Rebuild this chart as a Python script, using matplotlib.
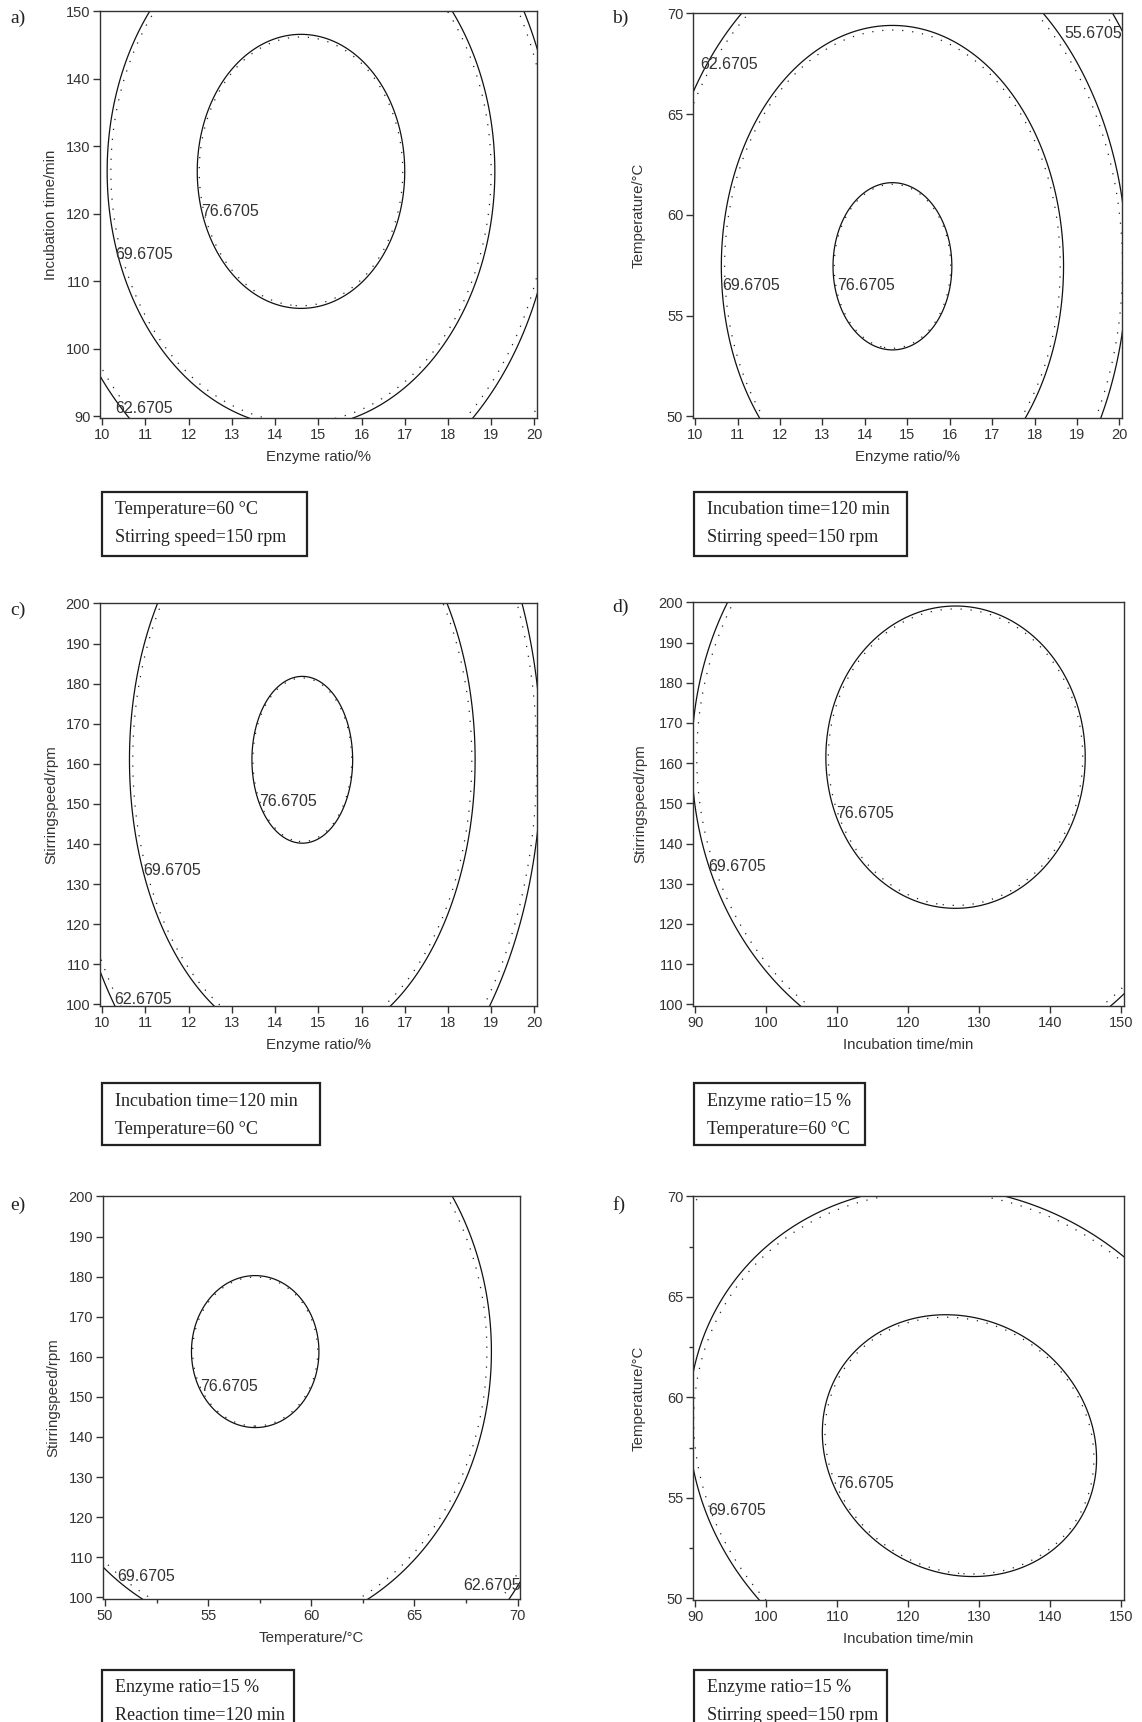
import numpy as np
import matplotlib
matplotlib.use('Agg')
import matplotlib.pyplot as plt
from matplotlib.patches import Rectangle
from matplotlib.ticker import MultipleLocator

# ---------------- data ----------------
panels = ['a', 'b', 'c', 'd', 'e', 'f']
x_names = ['Enzyme ratio/%', 'Enzyme ratio/%', 'Enzyme ratio/%',
           'Incubation time/min', 'Temperature/°C', 'Incubation time/min']
y_names = ['Incubation time/min', 'Temperature/°C', 'Stirringspeed/rpm',
           'Stirringspeed/rpm', 'Stirringspeed/rpm', 'Temperature/°C']
x_min = [10, 10, 10, 90, 50, 90]
x_max = [20, 20, 20, 150, 70, 150]
y_min = [90, 50, 100, 100, 100, 50]
y_max = [150, 70, 200, 200, 200, 70]
x_step = [1, 1, 1, 10, 5, 10]
y_step = [10, 5, 10, 10, 10, 5]

# quadratic response surface per panel: optimum, half-axes of the 76.6705 contour,
# interaction term and peak value
opt_x = [14.6, 14.65, 14.63, 126.65, 57.28, 127.2]
opt_y = [126.3, 57.45, 161.0, 161.5, 161.3, 57.6]
half_x = [2.4, 1.4, 1.165, 18.25, 3.09, 19.2]
half_y = [20.3, 4.15, 20.8, 37.6, 18.95, 6.48]
interaction = [0.0, 0.0, 0.0, 0.0, 0.0, 0.2]
peak = [79.48, 77.63, 77.32, 78.9, 77.22, 79.08]
levels = [55.6705, 62.6705, 69.6705, 76.6705]

fixed_1 = ['Temperature=60 °C', 'Incubation time=120 min', 'Incubation time=120 min',
           'Enzyme ratio=15 %', 'Enzyme ratio=15 %', 'Enzyme ratio=15 %']
fixed_2 = ['Stirring speed=150 rpm', 'Stirring speed=150 rpm', 'Temperature=60 °C',
           'Temperature=60 °C', 'Reaction time=120 min', 'Stirring speed=150 rpm']

# ---------------- layout ----------------
W, H = 1142, 1722
axes_px = [(100, 537, 11, 418), (693, 1122, 13, 418),
           (100, 537, 603, 1006), (693, 1124, 602, 1006),
           (103, 520, 1196, 1599), (693, 1124, 1196, 1600)]
box_px = [(102, 307, 492, 556), (694, 907, 492, 556),
          (102, 320, 1083, 1145), (694, 865, 1083, 1145),
          (102, 294, 1670, 1760), (694, 887, 1670, 1760)]
tag_px = [(10, 18), (612, 18), (10, 610), (612, 607), (10, 1205), (612, 1205)]
ylabel_off = [42, 47, 42, 46, 43, 47]   # px from left spine to label's right edge
label_pos = [
    [(76.6705, 12.3, 120.3), (69.6705, 10.3, 114.0), (62.6705, 10.3, 91.2)],
    [(62.6705, 10.11, 67.45), (55.6705, 18.7, 69.0), (69.6705, 10.65, 56.5), (76.6705, 13.34, 56.5)],
    [(76.6705, 13.63, 150.6), (69.6705, 10.96, 133.5), (62.6705, 10.28, 101.1)],
    [(76.6705, 109.9, 147.5), (69.6705, 91.8, 134.4)],
    [(76.6705, 54.6, 152.6), (69.6705, 50.6, 105.1), (62.6705, 67.35, 102.9)],
    [(76.6705, 109.9, 55.73), (69.6705, 91.8, 54.37)],
]
minor_x = [None, None, None, None, 2.5, None]
minor_y = [None, None, None, None, None, 2.5]

SANS = ['Liberation Sans', 'DejaVu Sans']
SERIF = ['Liberation Serif', 'DejaVu Serif']
TXT = '#333333'

fig = plt.figure(figsize=(W / 100, H / 100), dpi=100)
fig.patch.set_facecolor('white')

for i in range(6):
    l, r, t, b = axes_px[i]
    ax = fig.add_axes([l / W, 1 - b / H, (r - l) / W, (b - t) / H])
    xr = x_max[i] - x_min[i]
    yr = y_max[i] - y_min[i]
    ax.set_xlim(x_min[i] - 0.005 * xr, x_max[i] + 0.006 * xr)
    ax.set_ylim(y_min[i] - 0.004 * yr, y_max[i] + 0.001 * yr)

    xs = np.linspace(x_min[i] - 0.01 * xr, x_max[i] + 0.01 * xr, 400)
    ys = np.linspace(y_min[i] - 0.01 * yr, y_max[i] + 0.01 * yr, 400)
    X, Y = np.meshgrid(xs, ys)
    u = (X - opt_x[i]) / half_x[i]
    v = (Y - opt_y[i]) / half_y[i]
    Q = u ** 2 + v ** 2 + interaction[i] * u * v
    d = peak[i] - 76.6705
    Z = peak[i] - d * Q

    ax.contour(X, Y, Z, levels=levels, colors='#111111', linewidths=0.9)
    dot_levels = [peak[i] - (peak[i] - L) * 0.962 for L in levels]
    ax.contour(X, Y, Z, levels=dot_levels, colors='#222222', linewidths=0.9,
               linestyles=[(0, (1, 7))])

    for (L, lx, ly) in label_pos[i]:
        ax.text(lx, ly, f'{L:.4f}', ha='left', va='center', fontsize=11.5,
                family=SANS, color=TXT)

    ax.set_xticks(np.arange(x_min[i], x_max[i] + 0.001, x_step[i]))
    ax.set_yticks(np.arange(y_min[i], y_max[i] + 0.001, y_step[i]))
    if minor_x[i]:
        ax.xaxis.set_minor_locator(MultipleLocator(minor_x[i]))
    if minor_y[i]:
        ax.yaxis.set_minor_locator(MultipleLocator(minor_y[i]))
    ax.tick_params(which='major', direction='out', length=5, width=1, color=TXT,
                   labelsize=10.5, labelcolor=TXT, pad=2)
    ax.tick_params(which='minor', direction='out', length=3, width=1, color=TXT)
    for lab in ax.get_xticklabels() + ax.get_yticklabels():
        lab.set_family(SANS)
    for s in ax.spines.values():
        s.set_color('#333333')
        s.set_linewidth(1.0)
    ax.set_xlabel(x_names[i], fontsize=10.8, family=SANS, color=TXT, labelpad=6)
    ax.set_ylabel(y_names[i], fontsize=10.8, family=SANS, color=TXT)
    ax.yaxis.set_label_coords(-ylabel_off[i] / (r - l), 0.5)

    # panel tag
    tx, ty = tag_px[i]
    fig.text(tx / W, 1 - ty / H, f'{panels[i]})', ha='left', va='center',
             fontsize=14, family=SERIF, color='#222222')

    # box with fixed factors
    bl, br, bt, bb = box_px[i]
    rect = Rectangle((bl / W, 1 - bb / H), (br - bl) / W, (bb - bt) / H,
                     transform=fig.transFigure, fill=False, edgecolor='#222222',
                     linewidth=1.6, clip_on=False)
    fig.patches.append(rect)
    fig.text((bl + 13) / W, 1 - (bt + 18) / H, fixed_1[i], ha='left', va='center',
             fontsize=13, family=SERIF, color='#222222')
    fig.text((bl + 13) / W, 1 - (bt + 46) / H, fixed_2[i], ha='left', va='center',
             fontsize=13, family=SERIF, color='#222222')

fig.savefig('out.png', dpi=100, facecolor='white')
